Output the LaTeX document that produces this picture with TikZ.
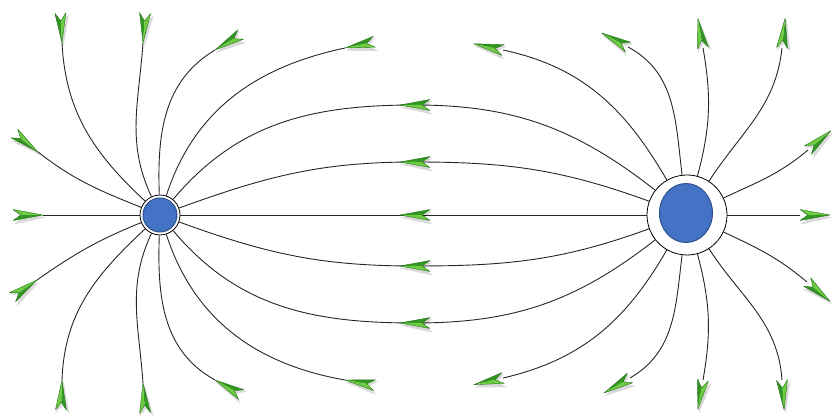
\documentclass[tikz,border=0pt]{standalone}
\usetikzlibrary{shapes.geometric}
\definecolor{qblue}{RGB}{68,114,196}
\definecolor{qedge}{RGB}{47,82,143}
\definecolor{glight}{RGB}{110,205,65}
\definecolor{gdark}{RGB}{50,150,35}
\definecolor{gedge}{RGB}{35,115,25}
\newcommand{\garr}[3]{%
  \begin{scope}[shift={#1},xshift=1.5pt,yshift=-2.5pt,rotate=#2,xshift=#3]
    \fill[black,opacity=0.15] (1,0) -- (-31,-7) -- (-23,0) -- (-31,7) -- cycle;
  \end{scope}
  \begin{scope}[shift={#1},rotate=#2,xshift=#3]
    \fill[gdark] (0,0) -- (-30,-5.5) -- (-22,0) -- cycle;
    \fill[glight] (0,0) -- (-30,5.5) -- (-22,0) -- cycle;
    \draw[gedge,line width=0.4pt,line join=round] (0,0) -- (-30,-5.5) -- (-22,0) -- (-30,5.5) -- cycle;
  \end{scope}}
\begin{document}
\begin{tikzpicture}[x=1pt,y=1pt,
  fieldline/.style={draw=black!85,line width=0.9pt},
  ring/.style={circle,draw=black,line width=0.8pt,fill=white,inner sep=0pt}]
\useasboundingbox (0,0) rectangle (836,418);
% charges (rings)
\node[ring,minimum size=40pt] (Lq) at (160,203) {};
\node[ring,minimum size=80pt] (Rq) at (687,203) {};
% ---- left charge outer lines
\coordinate (l0) at (43,203);
\coordinate (l1) at (38,266);
\coordinate (l2) at (62,375);
\coordinate (l3) at (143,375);
\coordinate (l4) at (215,368);
\coordinate (l5) at (345,370);
\coordinate (l1b) at (37,138);
\coordinate (l2b) at (62,38);
\coordinate (l3b) at (143,35);
\coordinate (l4b) at (215,38);
\coordinate (l5b) at (345,38);
\draw[fieldline] (l0) -- (Lq);
\draw[fieldline] (l1) to[out=-38,in=158] (Lq);
\draw[fieldline] (l2) to[out=-87,in=137] (Lq);
\draw[fieldline] (l3) to[out=-94,in=115] (Lq);
\draw[fieldline] (l4) to[out=-149,in=92] (Lq);
\draw[fieldline] (l5) to[out=-168,in=72] (Lq);
\draw[fieldline] (l1b) to[out=35,in=-158] (Lq);
\draw[fieldline] (l2b) to[out=88,in=-137] (Lq);
\draw[fieldline] (l3b) to[out=94,in=-115] (Lq);
\draw[fieldline] (l4b) to[out=151,in=-92] (Lq);
\draw[fieldline] (l5b) to[out=170,in=-72] (Lq);
% ---- right charge outer lines
\coordinate (r0) at (800,203);
\coordinate (r2) at (808,268);
\coordinate (r4) at (782,370);
\coordinate (r5) at (703,370);
\coordinate (r6) at (628,371);
\coordinate (r7) at (503,368);
\coordinate (r2b) at (807,136);
\coordinate (r4b) at (782,38);
\coordinate (r5b) at (703,38);
\coordinate (r6b) at (630,40);
\coordinate (r7b) at (503,40);
\draw[fieldline] (Rq) -- (r0);
\draw[fieldline] (Rq) to[out=25,in=220] (r2);
\draw[fieldline] (Rq) to[out=57,in=264] (r4);
\draw[fieldline] (Rq) to[out=75,in=280] (r5);
\draw[fieldline] (Rq) to[out=97,in=332] (r6);
\draw[fieldline] (Rq) to[out=120,in=348] (r7);
\draw[fieldline] (Rq) to[out=-25,in=140] (r2b);
\draw[fieldline] (Rq) to[out=-57,in=94] (r4b);
\draw[fieldline] (Rq) to[out=-75,in=80] (r5b);
\draw[fieldline] (Rq) to[out=-97,in=30] (r6b);
\draw[fieldline] (Rq) to[out=-120,in=13] (r7b);
% ---- connecting lines
\coordinate (a0) at (415,203);
\coordinate (a1) at (415,313);
\coordinate (a2) at (415,256);
\coordinate (a1b) at (415,95);
\coordinate (a2b) at (415,152);
\draw[fieldline] (Rq) -- (Lq);
\draw[fieldline] (Rq) to[out=142,in=0] (a1) to[out=180,in=50] (Lq);
\draw[fieldline] (Rq) to[out=160,in=0] (a2) to[out=180,in=20] (Lq);
\draw[fieldline] (Rq) to[out=-142,in=0] (a1b) to[out=180,in=-50] (Lq);
\draw[fieldline] (Rq) to[out=-160,in=0] (a2b) to[out=180,in=-20] (Lq);
% ---- charge cores
\node[circle,minimum size=34pt,inner sep=0pt,fill=qblue,draw=qedge,line width=1pt] (Lc) at (Lq) {};
\node[ellipse,minimum width=53pt,minimum height=59pt,inner sep=0pt,fill=qblue,draw=qedge,line width=1pt] (Rc) at (686,205) {};
% ---- arrowheads
\garr{(l0)}{0}{0}
\garr{(l1)}{-38}{0}
\garr{(l2)}{-87}{0}
\garr{(l3)}{-94}{0}
\garr{(l4)}{-149}{0}
\garr{(l5)}{-168}{0}
\garr{(l1b)}{35}{0}
\garr{(l2b)}{88}{0}
\garr{(l3b)}{94}{0}
\garr{(l4b)}{151}{0}
\garr{(l5b)}{170}{0}
\garr{(r0)}{0}{30}
\garr{(r2)}{40}{30}
\garr{(r4)}{84}{30}
\garr{(r5)}{100}{30}
\garr{(r6)}{152}{30}
\garr{(r7)}{168}{30}
\garr{(r2b)}{-40}{30}
\garr{(r4b)}{-86}{30}
\garr{(r5b)}{-100}{30}
\garr{(r6b)}{-150}{30}
\garr{(r7b)}{-167}{30}
\garr{(a0)}{180}{15}
\garr{(a1)}{180}{15}
\garr{(a2)}{180}{15}
\garr{(a1b)}{180}{15}
\garr{(a2b)}{180}{15}
\end{tikzpicture}
\end{document}
